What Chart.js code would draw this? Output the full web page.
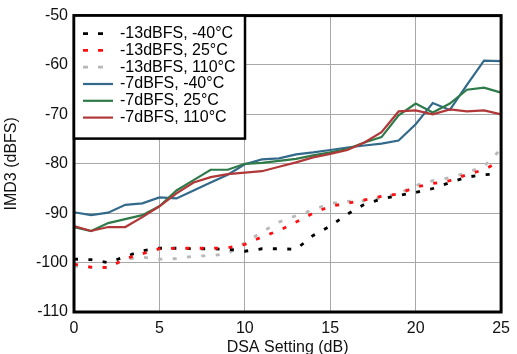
<!DOCTYPE html>
<html>
<head>
<meta charset="utf-8">
<script src="https://cdn.jsdelivr.net/npm/chart.js@4/dist/chart.umd.min.js"></script>
<style>
  html, body { margin: 0; padding: 0; background: #fff; }
  #wrap { width: 517px; height: 354px; }
</style>
</head>
<body>
<div id="wrap"><canvas id="imdChart" width="517" height="354"></canvas></div>
<script>
// DSA setting (dB) on the x axis
const dsaSetting = [0, 1, 2, 3, 4, 5, 6, 7, 8, 9, 10, 11, 12, 13, 14, 15, 16, 17, 18, 19, 20, 21, 22, 23, 24, 25];

// -13 dBFS input (dashed)
const imd13Cold = [-99.3, -99.4, -100, -98.8, -97.6, -97.1, -97.1, -97.2, -97.2, -97.3, -97.7, -97.2, -97.2, -97.3, -94.5, -92.6, -90.2, -88.2, -87.1, -86.4, -85.8, -85.0, -83.8, -82.7, -82.2, -82.0];
const imd13Room = [-100.3, -100.9, -101, -99.2, -98.2, -97.2, -97.1, -97.1, -97.1, -97.0, -96.3, -94.8, -93.5, -91.8, -90.0, -88.6, -88.0, -87.3, -86.6, -86.1, -84.7, -84.0, -83.4, -82.2, -81.2, -79.3];
const imd13Hot  = [-100.7, -101, -101, -99.4, -98.9, -99.3, -99.2, -98.7, -98.6, -98.2, -96.0, -93.8, -91.8, -90.5, -89.3, -88.0, -87.6, -87.5, -86.9, -86.0, -84.4, -83.4, -82.8, -81.8, -80.5, -77.0];

// -7 dBFS input (solid)
const imd7Cold = [-89.8, -90.4, -89.9, -88.3, -88.0, -86.8, -87.0, -85.4, -83.8, -82.2, -80.1, -79.1, -78.9, -78.1, -77.7, -77.2, -76.7, -76.3, -75.9, -75.3, -72.0, -67.7, -69.1, -64.0, -59.1, -59.2];
const imd7Room = [-92.8, -93.6, -92.0, -91.2, -90.4, -88.6, -85.4, -83.3, -81.2, -81.2, -80.0, -79.8, -79.4, -79.0, -78.3, -77.7, -77.0, -75.7, -74.6, -70.2, -67.8, -69.6, -67.8, -65.0, -64.6, -65.6];
const imd7Hot  = [-92.6, -93.6, -92.8, -92.8, -90.8, -88.6, -86.0, -83.8, -82.7, -82.1, -81.8, -81.5, -80.6, -79.7, -78.7, -78.0, -77.2, -75.7, -73.6, -69.4, -69.2, -70.0, -69.0, -69.4, -69.2, -70.0];

const seriesLabels = ['-13dBFS, -40°C', '-13dBFS, 25°C', '-13dBFS, 110°C', '-7dBFS, -40°C', '-7dBFS, 25°C', '-7dBFS, 110°C'];
const xTicks = [0, 5, 10, 15, 20, 25];
const yTicks = [-110, -100, -90, -80, -70, -60, -50];

const FONT = 'Liberation Sans, Arial, sans-serif';

function points(values) {
    return dsaSetting.map((x, i) => ({ x: x, y: values[i] }));
}

function dashed(label, values, color, order) {
    return {
        label: label, data: points(values), borderColor: color, borderWidth: 2.8,
        borderDash: [4, 10.4], pointRadius: 0, fill: false, tension: 0, order: order
    };
}

function solid(label, values, color, order) {
    return {
        label: label, data: points(values), borderColor: color, borderWidth: 2.2,
        pointRadius: 0, fill: false, tension: 0, order: order
    };
}

// frame around the plot area plus the boxed legend in the top-left corner
const frameAndLegend = {
    id: 'frameAndLegend',
    afterDatasetsDraw(chart) {
        const ctx = chart.ctx;
        const a = chart.chartArea;
        ctx.save();
        ctx.strokeStyle = '#000';
        ctx.lineWidth = 3;
        ctx.strokeRect(a.left, a.top, a.right - a.left, a.bottom - a.top);

        const boxW = 171, boxH = 123;
        ctx.fillStyle = '#fff';
        ctx.fillRect(a.left, a.top, boxW, boxH);
        ctx.lineWidth = 2.5;
        ctx.strokeRect(a.left, a.top, boxW, boxH);

        ctx.font = '16px ' + FONT;
        ctx.textBaseline = 'middle';
        ctx.textAlign = 'left';
        chart.data.datasets.forEach((ds, i) => {
            const y = a.top + 18 + i * 16.8;
            ctx.strokeStyle = ds.borderColor;
            ctx.lineWidth = ds.borderWidth;
            ctx.setLineDash(ds.borderDash ? [5, 10] : []);
            ctx.beginPath();
            ctx.moveTo(a.left + 9, y);
            ctx.lineTo(a.left + (ds.borderDash ? 29 : 39), y);
            ctx.stroke();
            ctx.setLineDash([]);
            ctx.fillStyle = '#000';
            ctx.fillText(ds.label, a.left + 46, y);
        });
        ctx.restore();
    }
};

new Chart(document.getElementById('imdChart'), {
    type: 'line',
    data: {
        datasets: [
            dashed(seriesLabels[0], imd13Cold, '#000000', 2),
            dashed(seriesLabels[1], imd13Room, '#ff1010', 1),
            dashed(seriesLabels[2], imd13Hot, '#b8b8b8', 3),
            solid(seriesLabels[3], imd7Cold, '#336a8c', 6),
            solid(seriesLabels[4], imd7Room, '#2e7a48', 5),
            solid(seriesLabels[5], imd7Hot, '#b03838', 4)
        ]
    },
    options: {
        responsive: false,
        animation: false,
        layout: { padding: { left: 0, right: 9, top: 15, bottom: 0 } },
        plugins: { legend: { display: false }, tooltip: { enabled: false } },
        scales: {
            x: {
                type: 'linear', min: 0, max: 25,
                afterBuildTicks: s => { s.ticks = xTicks.map(v => ({ value: v })); },
                afterFit: s => { s.height = 42; },
                grid: { color: '#a8a8a8', lineWidth: 1, drawTicks: false },
                border: { display: false },
                ticks: { color: '#111', font: { family: FONT, size: 16 }, padding: 7, maxRotation: 0 },
                title: { display: true, text: 'DSA Setting (dB)', color: '#111', font: { family: FONT, size: 16, lineHeight: 0.85 }, padding: 0 }
            },
            y: {
                min: -110, max: -50,
                afterBuildTicks: s => { s.ticks = yTicks.map(v => ({ value: v })); },
                afterFit: s => { s.width = 74; },
                grid: { color: '#a8a8a8', lineWidth: 1, drawTicks: false },
                border: { display: false },
                ticks: { color: '#111', font: { family: FONT, size: 16 }, padding: 6 },
                title: { display: true, text: 'IMD3 (dBFS)', color: '#111', font: { family: FONT, size: 16, lineHeight: 1 }, padding: { top: 4, bottom: 0 } }
            }
        }
    },
    plugins: [frameAndLegend]
});
</script>
</body>
</html>
